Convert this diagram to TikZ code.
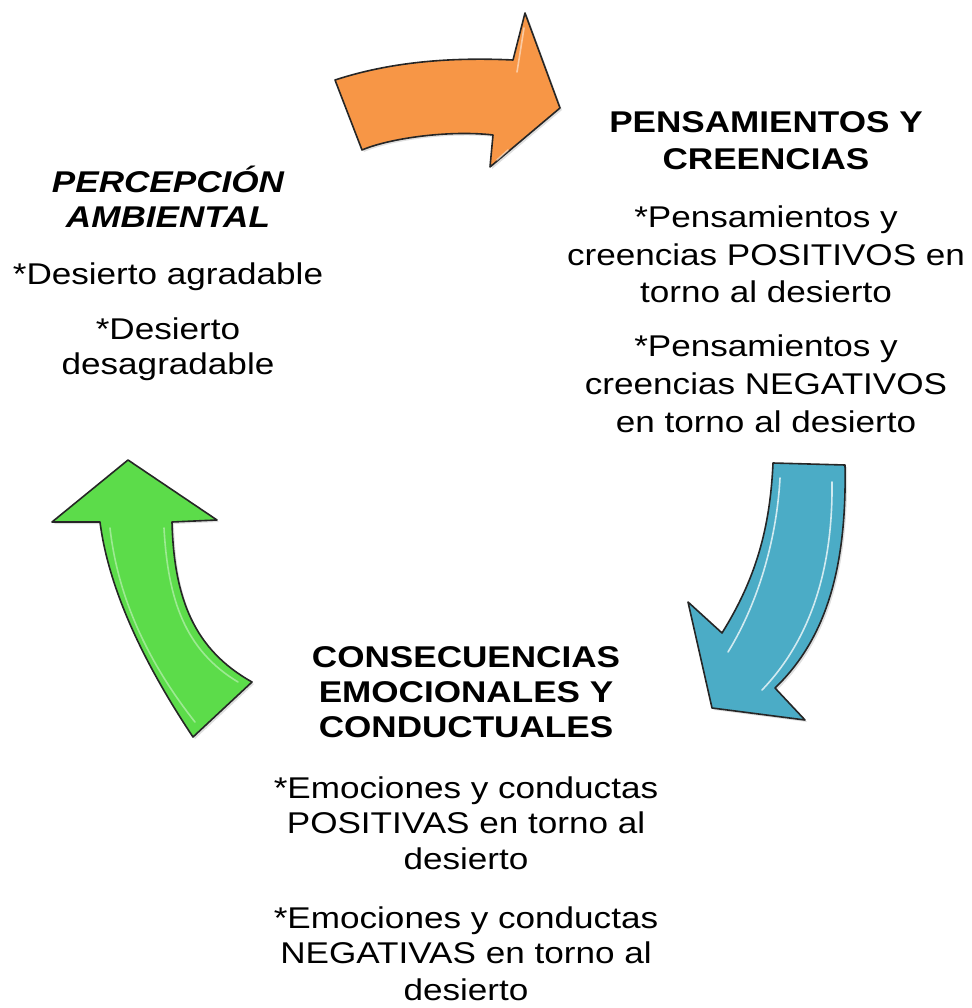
\documentclass[tikz,border=0pt]{standalone}
\usepackage{fontspec}
\setmainfont{Liberation Sans}[FakeStretch=1.17]
\usetikzlibrary{shadows}
\definecolor{arrorange}{HTML}{F79646}
\definecolor{arrblue}{HTML}{4BACC6}
\definecolor{arrgreen}{HTML}{5CDC4A}
\begin{document}
\begin{tikzpicture}[x=1pt,y=-1pt,
  txt/.style={anchor=base, inner sep=0pt, font=\fontsize{30}{36}\selectfont},
  head/.style={txt, font=\fontsize{30}{36}\selectfont\bfseries},
  heada/.style={txt, font=\fontsize{30}{36}\selectfont\bfseries\itshape},
  bigarrow/.style={draw=black!85, line width=1.6pt, line join=round,
    drop shadow={opacity=0.25, shadow xshift=2pt, shadow yshift=-2pt}},
  shine/.style={draw=white, line width=1.6pt, opacity=0.75, line cap=round}]
\useasboundingbox (0,0) rectangle (971,1008);

% orange arrow (top)
\path[bigarrow, fill=arrorange] (335,80) .. controls (390,62) and (450,57) .. (513,60)
  -- (525,13) -- (560,108) -- (490,167) -- (493,135)
  .. controls (450,130) and (390,138) .. (362,150) -- cycle;
\draw[shine, opacity=0.5] (524,28) -- (517,72);
\draw[shine, opacity=0.5] (508,150) -- (497,160);

% blue arrow (right)
\path[bigarrow, fill=arrblue] (773,463) -- (845,465)
  .. controls (847,570) and (825,640) .. (775,688)
  -- (805,720) -- (712,708) -- (688,602) -- (722,633)
  .. controls (755,580) and (770,530) .. (773,463) -- cycle;
\draw[shine] (780,478) .. controls (777,535) and (760,600) .. (728,652);
\draw[shine] (832,482) .. controls (833,570) and (810,640) .. (762,690);

% green arrow (left)
\path[bigarrow, fill=arrgreen] (128,460) -- (217,520) -- (172,522)
  .. controls (174,600) and (195,650) .. (252,682)
  -- (193,737)
  .. controls (155,680) and (110,600) .. (100,522)
  -- (52,522) -- cycle;
\draw[shine, opacity=0.4] (110,528) .. controls (118,600) and (150,665) .. (195,722);
\draw[shine, opacity=0.4] (164,528) .. controls (168,600) and (185,650) .. (238,682);

% left block
\node[heada] (la) at (168,193) {PERCEPCIÓN};
\node[heada] (lb) at (168,228) {AMBIENTAL};
\node[txt] (lc) at (168,284) {*Desierto agradable};
\node[txt] (ld) at (168,339) {*Desierto};
\node[txt] (le) at (168,374) {desagradable};

% right block
\node[head] (ra) at (766,133) {PENSAMIENTOS Y};
\node[head] (rb) at (766,170) {CREENCIAS};
\node[txt] (rc) at (766,228) {*Pensamientos y};
\node[txt] (rd) at (766,265) {creencias POSITIVOS en};
\node[txt] (re) at (766,302) {torno al desierto};
\node[txt] (rf) at (766,356) {*Pensamientos y};
\node[txt] (rg) at (766,394) {creencias NEGATIVOS};
\node[txt] (rh) at (766,432) {en torno al desierto};

% bottom block
\node[head] (ba) at (466,667) {CONSECUENCIAS};
\node[head] (bb) at (466,702) {EMOCIONALES Y};
\node[head] (bc) at (466,737) {CONDUCTUALES};
\node[txt] (bd) at (466,798) {*Emociones y conductas};
\node[txt] (be) at (466,833) {POSITIVAS en torno al};
\node[txt] (bf) at (466,869) {desierto};
\node[txt] (bg) at (466,928) {*Emociones y conductas};
\node[txt] (bh) at (466,963) {NEGATIVAS en torno al};
\node[txt] (bi) at (466,1000) {desierto};
\end{tikzpicture}
\end{document}
